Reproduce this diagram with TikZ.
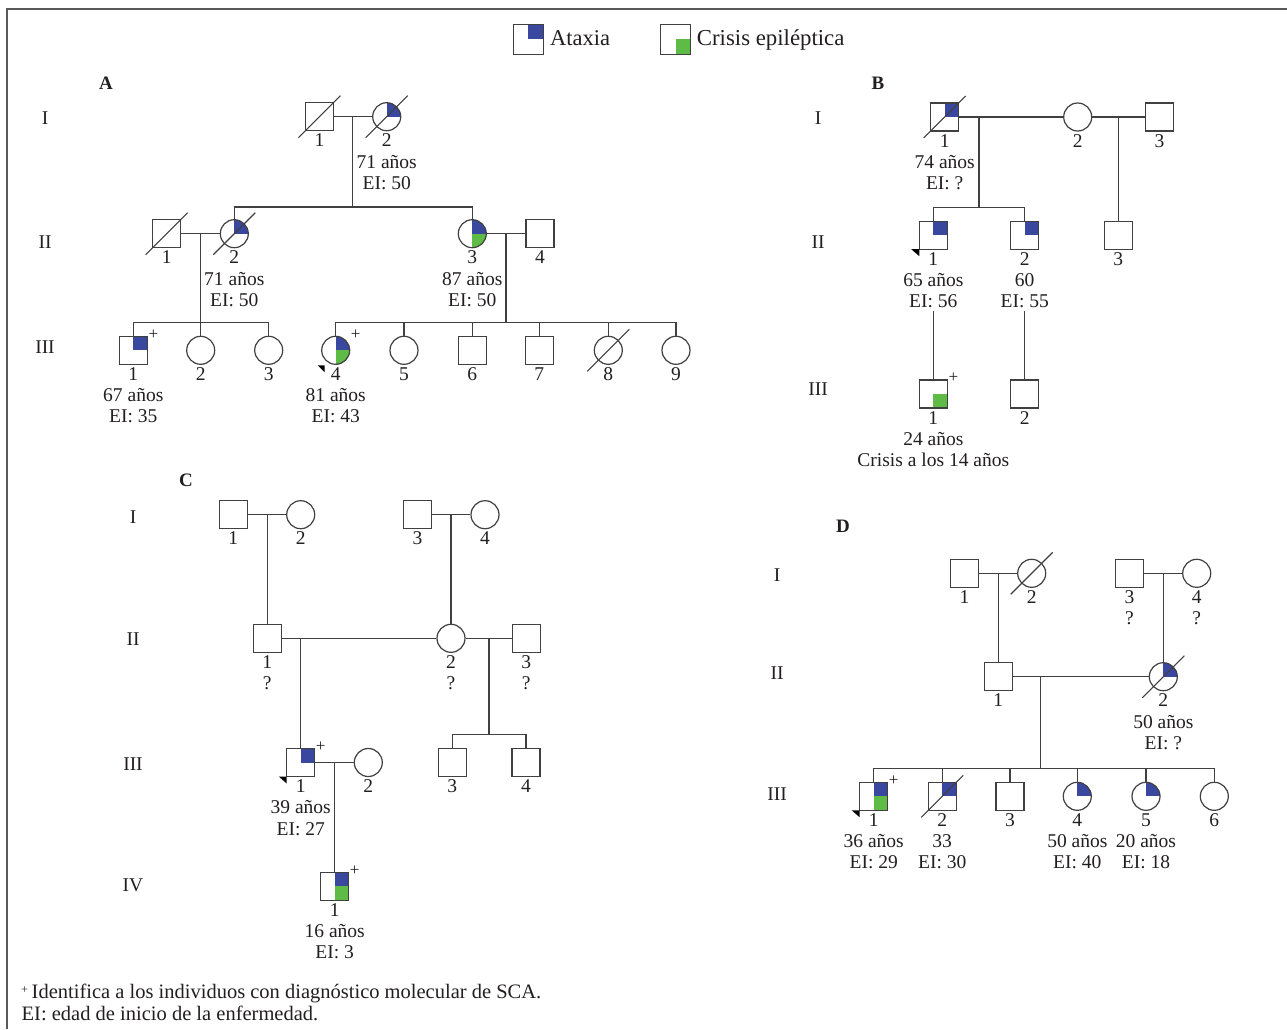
\documentclass[tikz,border=0pt]{standalone}
\usepackage{fontspec}
\setmainfont{Liberation Serif}
\usetikzlibrary{calc}
\definecolor{ataxc}{HTML}{3A479E}
\definecolor{epic}{HTML}{5DBB46}
\definecolor{linec}{HTML}{404040}
\definecolor{txtc}{HTML}{231F20}
\tikzset{
  ln/.style={draw=linec, line width=1.1pt},
  sym/.style={draw=linec, line width=1.2pt, fill=white, inner sep=0pt, minimum size=28pt},
  male/.style={sym, rectangle},
  female/.style={sym, circle},
  atx/.style={path picture={\fill[ataxc] (path picture bounding box.center) rectangle (path picture bounding box.north east);}},
  epi/.style={path picture={\fill[epic] (path picture bounding box.center) rectangle (path picture bounding box.south east);}},
  atxepi/.style={path picture={\fill[ataxc] (path picture bounding box.center) rectangle (path picture bounding box.north east);
      \fill[epic] (path picture bounding box.center) rectangle (path picture bounding box.south east);}},
  lab/.style={font=\fontsize{19.5}{21}\selectfont, text=txtc, anchor=base, inner sep=0pt},
  gen/.style={font=\fontsize{19.5}{21}\selectfont, text=txtc, anchor=center, inner sep=0pt},
  panel/.style={font=\fontsize{19}{21}\selectfont\bfseries, text=txtc, anchor=center, inner sep=0pt},
  plusm/.style={font=\fontsize{17}{18}\selectfont, text=txtc, anchor=center, inner sep=0pt},
}
\newcommand\lA[2]{\node[lab] (#1-l1) at ($(#1.center)+(0,30)$) {#2};}
\newcommand\lB[3]{\lA{#1}{#2}\node[lab] (#1-l2) at ($(#1.center)+(0,51.3)$) {#3};}
\newcommand\lC[4]{\lB{#1}{#2}{#3}\node[lab] (#1-l3) at ($(#1.center)+(0,72.5)$) {#4};}
\newcommand\dece[1]{\draw[draw=linec, line width=1.1pt] ($(#1.center)+(-21,21)$) -- ($(#1.center)+(21,-21)$);}
\newcommand\probsq[1]{\fill[black] ($(#1.center)+(-22,14)$) -- ++(8,0) -- ++(0,7) -- cycle;}
\newcommand\probci[1]{\fill[black] ($(#1.center)+(-18,15)$) -- ++(7,0) -- ++(0,7) -- cycle;}
\newcommand\plusmk[1]{\node[plusm] (#1-plus) at ($(#1.center)+(20,-16)$) {+};}
\begin{document}
\begin{tikzpicture}[x=1pt,y=-1pt]
\useasboundingbox (0,0) rectangle (1287,1029);
\fill[white] (0,0) rectangle (1287,1029);
% frame
\draw[draw=black!65, line width=2pt] (6.5,1029) -- (6.5,8.5) -- (1287,8.5);

% legend
\node[male, atx, minimum size=30pt] (LG1) at (528.3,39.2) {};
\node[font=\fontsize{22.5}{24}\selectfont, text=txtc, anchor=base west, inner sep=0pt] (LG1t) at (550,45) {Ataxia};
\node[male, epi, minimum size=30pt] (LG2) at (675.7,39.2) {};
\node[font=\fontsize{22.8}{24}\selectfont, text=txtc, anchor=base west, inner sep=0pt] (LG2t) at (696.7,45) {Crisis epiléptica};

% ================= Panel A
\node[panel] (PA) at (106,83) {A};
\node[gen] (GA1) at (45,118) {I};
\node[gen] (GA2) at (45,242) {II};
\node[gen] (GA3) at (45,347) {III};

\coordinate (mA1) at (352.7,116.7);
\coordinate (sA1) at (352.7,207);
\coordinate (mA2) at (200.7,233.7);
\coordinate (sA2) at (200.7,322.7);
\coordinate (mA3) at (506,233.7);
\coordinate (sA3) at (506,322.7);
\draw[ln] (mA1) -- (sA1);
\draw[ln] (mA2) -- (sA2);
\draw[ln] (mA3) -- (sA3);

\node[male] (A11) at (319.5,116.7) {};
\node[female, atx] (A12) at (386.7,116.7) {};
\draw[ln] (A11) -- (A12);

\node[male] (A21) at (166.7,233.7) {};
\node[female, atx] (A22) at (234.3,233.7) {};
\node[female, atxepi] (A23) at (472.3,233.7) {};
\node[male] (A24) at (540,233.7) {};
\draw[ln] (A22.north) |- (sA1) -| (A23.north);
\draw[ln] (A21) -- (A22);
\draw[ln] (A23) -- (A24);

\node[male, atx] (A31) at (133.3,350.3) {};
\node[female] (A32) at (200.7,350.3) {};
\node[female] (A33) at (268.7,350.3) {};
\draw[ln] (A31.north) |- (sA2) -| (A33.north);
\draw[ln] (A32.north) -- (A32.north |- sA2);

\node[female, atxepi] (A34) at (335.7,350.3) {};
\node[female] (A35) at (404,350.3) {};
\node[male] (A36) at (472.3,350.3) {};
\node[male] (A37) at (539.3,350.3) {};
\node[female] (A38) at (608.3,350.3) {};
\node[female] (A39) at (676,350.3) {};
\draw[ln] (A34.north) |- (sA3) -| (A39.north);
\foreach \n in {A35,A36,A37,A38} \draw[ln] (\n.north) -- (\n.north |- sA3);

\dece{A11}\dece{A12}\dece{A21}\dece{A22}\dece{A38}
\plusmk{A31}\plusmk{A34}
\probci{A34}

\lA{A11}{1}
\lC{A12}{2}{71 años}{EI: 50}
\lA{A21}{1}
\lC{A22}{2}{71 años}{EI: 50}
\lC{A23}{3}{87 años}{EI: 50}
\lA{A24}{4}
\lC{A31}{1}{67 años}{EI: 35}
\lA{A32}{2}
\lA{A33}{3}
\lC{A34}{4}{81 años}{EI: 43}
\lA{A35}{5}
\lA{A36}{6}
\lA{A37}{7}
\lA{A38}{8}
\lA{A39}{9}

% ================= Panel B
\node[panel] (PB) at (878,83) {B};
\node[gen] (GB1) at (818,118) {I};
\node[gen] (GB2) at (818,242) {II};
\node[gen] (GB3) at (818,389) {III};

\coordinate (mB1) at (979,117);
\coordinate (sB1) at (979,207.3);
\coordinate (mB2) at (1118.3,117);
\coordinate (dB1) at (933.3,310.7);
\coordinate (dB2) at (1024.7,310.7);
\draw[ln] (mB1) -- (sB1);

\node[male, atx] (B11) at (944.7,117) {};
\node[female] (B12) at (1077.7,117) {};
\node[male] (B13) at (1159.5,117) {};
\draw[ln] (B11) -- (B12);
\draw[ln] (B12) -- (B13);

\node[male, atx] (B21) at (933.3,235.2) {};
\node[male, atx] (B22) at (1024.7,235.2) {};
\node[male] (B23) at (1118.3,235.2) {};
\draw[ln] (B21.north) |- (sB1) -| (B22.north);
\draw[ln] (mB2) -- (B23.north);

\node[male, epi] (B31) at (933.3,394) {};
\node[male] (B32) at (1024.7,394) {};
\draw[ln] (dB1) -- (B31.north);
\draw[ln] (dB2) -- (B32.north);

\dece{B11}
\probsq{B21}
\plusmk{B31}

\lC{B11}{1}{74 años}{EI: ?}
\lA{B12}{2}
\lA{B13}{3}
\lC{B21}{1}{65 años}{EI: 56}
\lC{B22}{2}{60}{EI: 55}
\lA{B23}{3}
\lC{B31}{1}{24 años}{Crisis a los 14 años}
\lA{B32}{2}

% ================= Panel C
\node[panel] (PC) at (186,480) {C};
\node[gen] (GC1) at (133,517) {I};
\node[gen] (GC2) at (133,639) {II};
\node[gen] (GC3) at (133,764) {III};
\node[gen] (GC4) at (133,885) {IV};

\coordinate (mC1) at (267.3,514.7);
\coordinate (mC2) at (451,514.7);
\coordinate (mC3) at (300.7,638.3);
\coordinate (mC4) at (489,638.3);
\coordinate (sC4) at (489,734.3);
\coordinate (mC5) at (334.7,762.5);

\node[male] (C11) at (233.3,514.7) {};
\node[female] (C12) at (300.7,514.7) {};
\node[male] (C13) at (417.5,514.7) {};
\node[female] (C14) at (485,514.7) {};
\draw[ln] (C11) -- (C12);
\draw[ln] (C13) -- (C14);

\node[male] (C21) at (267.3,638.3) {};
\node[female] (C22) at (451,638.3) {};
\node[male] (C23) at (526.2,638.3) {};
\draw[ln] (mC1) -- (C21.north);
\draw[ln] (mC2) -- (C22.north);
\draw[ln] (C21) -- (C22);
\draw[ln] (C22) -- (C23);

\node[male, atx] (C31) at (300.7,762.5) {};
\node[female] (C32) at (368.3,762.5) {};
\node[male] (C33) at (452.3,762.5) {};
\node[male] (C34) at (526,762.5) {};
\draw[ln] (mC3) -- (C31.north);
\draw[ln] (C31) -- (C32);
\draw[ln] (mC4) -- (sC4);
\draw[ln] (C33.north) |- (sC4) -| (C34.north);

\node[male, atxepi] (C41) at (334.7,886.3) {};
\draw[ln] (mC5) -- (C41.north);

\plusmk{C31}\plusmk{C41}
\probsq{C31}

\lA{C11}{1}
\lA{C12}{2}
\lA{C13}{3}
\lA{C14}{4}
\lB{C21}{1}{?}
\lB{C22}{2}{?}
\lB{C23}{3}{?}
\lC{C31}{1}{39 años}{EI: 27}
\lA{C32}{2}
\lA{C33}{3}
\lA{C34}{4}
\lC{C41}{1}{16 años}{EI: 3}

% ================= Panel D
\node[panel] (PD) at (843,526) {D};
\node[gen] (GD1) at (777,575) {I};
\node[gen] (GD2) at (777,673) {II};
\node[gen] (GD3) at (777,794) {III};

\coordinate (mD1) at (998.3,573.3);
\coordinate (mD2) at (1163.3,573.3);
\coordinate (mD3) at (1040.7,676.7);
\coordinate (sD3) at (1040.7,768.3);

\node[male] (D11) at (964.5,573.3) {};
\node[female] (D12) at (1031.7,573.3) {};
\node[male] (D13) at (1129.5,573.3) {};
\node[female] (D14) at (1196.7,573.3) {};
\draw[ln] (D11) -- (D12);
\draw[ln] (D13) -- (D14);

\node[male] (D21) at (998.3,676.7) {};
\node[female, atx] (D22) at (1163.3,676.7) {};
\draw[ln] (mD1) -- (D21.north);
\draw[ln] (mD2) -- (D22.north);
\draw[ln] (D21) -- (D22);
\draw[ln] (mD3) -- (sD3);

\node[male, atxepi] (D31) at (873.7,796.3) {};
\node[male, atx] (D32) at (942.2,796.3) {};
\node[male] (D33) at (1010,796.3) {};
\node[female, atx] (D34) at (1077.3,796.3) {};
\node[female, atx] (D35) at (1146,796.3) {};
\node[female] (D36) at (1214.3,796.3) {};
\draw[ln] (D31.north) |- (sD3) -| (D36.north);
\foreach \n in {D32,D33,D34,D35} \draw[ln] (\n.north) -- (\n.north |- sD3);

\dece{D12}\dece{D22}\dece{D32}
\plusmk{D31}
\probsq{D31}

\lA{D11}{1}
\lA{D12}{2}
\lB{D13}{3}{?}
\lB{D14}{4}{?}
\lA{D21}{1}
\lC{D22}{2}{50 años}{EI: ?}
\lC{D31}{1}{36 años}{EI: 29}
\lC{D32}{2}{33}{EI: 30}
\lA{D33}{3}
\lC{D34}{4}{50 años}{EI: 40}
\lC{D35}{5}{20 años}{EI: 18}
\lA{D36}{6}

% footer
\node[font=\fontsize{12}{13}\selectfont, text=txtc, anchor=center, inner sep=0pt] (FP) at (24.5,990) {+};
\node[font=\fontsize{20.5}{22}\selectfont, text=txtc, anchor=base west, inner sep=0pt] (F1) at (31.5,998.3) {Identifica a los individuos con diagnóstico molecular de SCA.};
\node[font=\fontsize{20.5}{22}\selectfont, text=txtc, anchor=base west, inner sep=0pt] (F2) at (21.5,1020) {EI: edad de inicio de la enfermedad.};
\end{tikzpicture}
\end{document}
